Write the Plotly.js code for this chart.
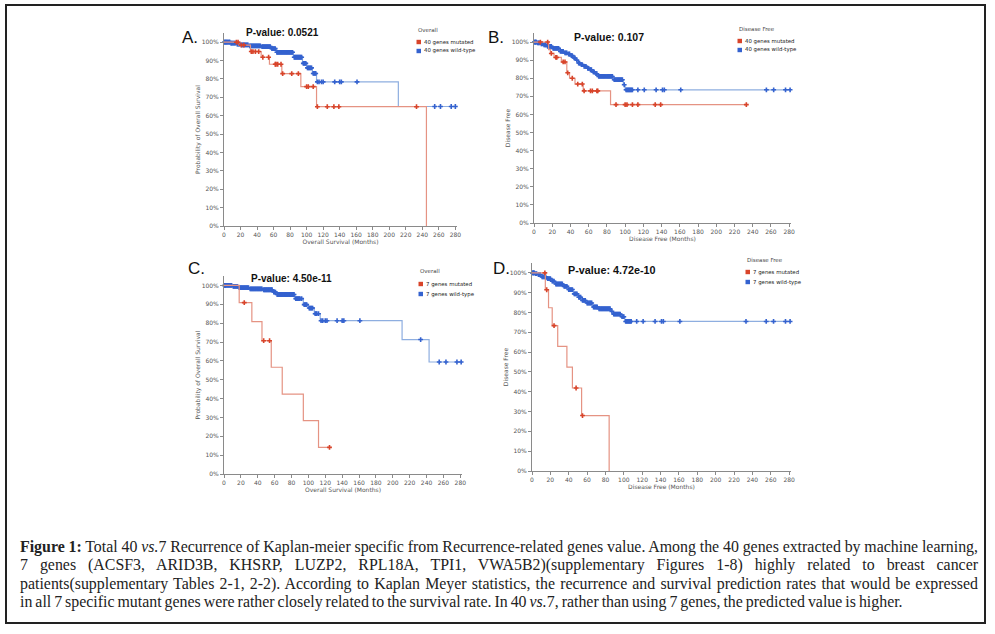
<!DOCTYPE html>
<html><head><meta charset="utf-8">
<script src="https://cdn.plot.ly/plotly-3.0.1.min.js"></script>
<style>
body{margin:0;padding:0;background:#fff;width:995px;height:634px;overflow:hidden;position:relative;}
#frame{position:absolute;left:5px;top:4px;width:981px;height:620px;border:2px solid #222;box-sizing:border-box;pointer-events:none;}
#chart{position:absolute;left:0;top:0;width:995px;height:634px;}
#caption{position:absolute;left:20px;width:958px;top:538px;font-family:'Liberation Serif',serif;font-size:15.9px;color:#222;word-spacing:-1px;}
#caption div{text-align:justify;text-align-last:justify;height:18.3px;line-height:18.3px;}
#caption div.last{text-align-last:left;}
</style>
</head><body>
<div id="chart"></div>
<div id="frame"></div>
<div id="caption">
<div><b>Figure 1:</b> Total 40 <i>vs.</i>7 Recurrence of Kaplan-meier specific from Recurrence-related genes value. Among the 40 genes extracted by machine learning,</div>
<div>7 genes (ACSF3, ARID3B, KHSRP, LUZP2, RPL18A, TPI1, VWA5B2)(supplementary Figures 1-8) highly related to breast cancer</div>
<div>patients(supplementary Tables 2-1, 2-2). According to Kaplan Meyer statistics, the recurrence and survival prediction rates that would be expressed</div>
<div class="last">in all 7 specific mutant genes were rather closely related to the survival rate. In 40 <i>vs.</i>7, rather than using 7 genes, the predicted value is higher.</div>
</div>
<script>
// ---------- DATA ----------
// Panel A: Overall survival, 40 genes
const A_mut_eventT = [18, 32, 45, 55, 70, 93, 112, 245];
const A_mut_eventS = [0.984, 0.949, 0.918, 0.880, 0.829, 0.758, 0.649, 0.0];
const A_mut_cens   = [15, 17, 21, 24, 33, 35, 38, 42, 47, 54, 62, 63, 65, 69, 71, 82, 90, 100, 102, 108, 113, 125, 133, 139, 233];
const A_mut_end    = 245;
const A_wt_eventT  = [8, 15, 20, 30, 45, 57, 63, 84, 95, 100, 107, 112, 211];
const A_wt_eventS  = [0.995, 0.990, 0.985, 0.980, 0.976, 0.965, 0.945, 0.918, 0.885, 0.860, 0.830, 0.784, 0.650];
const A_wt_cens    = [0.5,1,1.5,2,3,3.5,4,5,6,6.5,7,8.5,9,10,11,12,13,14,16,17,18,19,21,22,23,24,25,26,27,28,29,31,32,33,34,35,36,37,38,39,40,41,42,43,44,46,47,48,49,50,51,52,53,54,55,56,58,59,60,61,62,64,65,66,67,68,69,70,71,72,73,74,75,76,77,78,79,80,81,82,83,85,86,87,88,89,90,91,92,93,94,96,97,98,99,101,102,103,104,105,106,108,109,110,111,113,115,118,120,134,140,142,161,255,262,275,280];
const A_wt_end     = 280;

// Panel B: Disease free, 40 genes
const B_mut_eventT = [16, 18, 22, 30, 36, 39, 45, 54, 84];
const B_mut_eventS = [0.958, 0.937, 0.915, 0.890, 0.830, 0.800, 0.768, 0.730, 0.654];
const B_mut_cens   = [7, 15, 19, 24, 25, 32, 34, 37, 42, 48, 53, 55, 62, 64, 69, 70, 90, 100, 102, 108, 114, 133, 139, 233];
const B_mut_end    = 233;
const B_wt_eventT  = [3, 7, 10, 14, 20, 28, 33, 37, 40, 43, 46, 48, 51, 54, 58, 61, 64, 67, 70, 87, 98, 100];
const B_wt_eventS  = [0.995, 0.990, 0.985, 0.976, 0.965, 0.948, 0.940, 0.934, 0.925, 0.912, 0.900, 0.884, 0.875, 0.866, 0.855, 0.847, 0.835, 0.825, 0.810, 0.792, 0.764, 0.736];
const B_wt_cens    = [0.5,1,1.5,2,2.5,4,5,6,8,9,11,12,13,15,16,17,18,19,21,22,23,24,25,26,27,29,30,31,32,34,35,36,38,39,41,42,44,45,47,49,50,52,53,55,56,57,59,60,62,63,65,66,68,69,71,72,73,74,75,76,77,78,79,80,81,82,83,84,85,86,88,89,90,91,92,93,94,95,96,97,99,101,102,103,104,105,106,107,108,114,121,134,141,143,161,255,263,276,281];
const B_wt_end     = 281;

// Panel C: Overall survival, 7 genes
const C_mut_eventT = [18, 33, 45, 56, 69, 94, 112];
const C_mut_eventS = [0.909, 0.808, 0.707, 0.566, 0.424, 0.283, 0.141];
const C_mut_cens   = [24, 47, 54, 125];
const C_mut_end    = 125;
const C_wt_eventT  = [10, 17, 30, 46, 58, 62, 84, 94, 100, 107, 114, 211, 243];
const C_wt_eventS  = [0.995, 0.988, 0.982, 0.977, 0.965, 0.952, 0.930, 0.898, 0.880, 0.850, 0.813, 0.713, 0.594];
const C_wt_cens    = [0.5,1,1.5,2,3,4,5,6,7,8,9,11,12,13,14,15,16,18,19,20,21,22,23,24,25,26,27,28,29,31,32,33,34,35,36,37,38,39,40,41,42,43,44,45,47,48,49,50,51,52,53,54,55,56,57,59,60,61,63,64,65,66,67,68,69,70,71,72,73,74,75,76,77,78,79,80,81,82,83,85,86,87,88,89,90,92,95,96,97,98,101,102,103,104,105,108,109,110,112,115,117,120,122,134,140,142,161,233,255,263,276,281];
const C_wt_end     = 281;

// Panel D: Disease free, 7 genes
const D_mut_eventT = [14.5, 18, 22, 28, 38, 44, 54, 84];
const D_mut_eventS = [0.915, 0.824, 0.734, 0.629, 0.524, 0.419, 0.280, 0.0];
const D_mut_cens   = [14, 16, 24, 48, 55];
const D_mut_end    = 84;
const D_wt_eventT  = [3, 6, 10, 16, 21, 25, 34, 39, 45, 50, 54, 59, 66, 72, 86, 88, 97, 101];
const D_wt_eventS  = [0.996, 0.992, 0.980, 0.971, 0.958, 0.944, 0.932, 0.916, 0.894, 0.877, 0.861, 0.848, 0.828, 0.819, 0.806, 0.792, 0.779, 0.755];
const D_wt_cens    = [0.5,1,1.5,2,2.5,4,5,7,8,9,11,12,13,14,15,17,18,19,20,22,23,24,26,27,28,29,30,31,32,33,35,36,37,38,40,41,42,43,44,46,47,48,49,51,52,53,55,56,57,58,60,61,62,63,64,65,67,68,69,70,71,73,74,75,76,77,78,79,80,81,82,83,84,85,87,89,90,91,92,93,94,95,96,98,99,100,102,103,104,105,106,107,108,114,121,134,141,143,161,233,255,263,276,281];
const D_wt_end     = 281;

const xTicks = [0,20,40,60,80,100,120,140,160,180,200,220,240,260,280];
const yTicks = [0,0.1,0.2,0.3,0.4,0.5,0.6,0.7,0.8,0.9,1.0];

const pValues = ["P-value: 0.0521", "P-value: 0.107", "P-value: 4.50e-11", "P-value: 4.72e-10"];
const panelLetters = ["A.", "B.", "C.", "D."];
const legendTitles = ["Overall", "Disease Free", "Overall", "Disease Free"];
const legendMut = ["40 genes mutated", "40 genes mutated", "7 genes mutated", "7 genes mutated"];
const legendWt  = ["40 genes wild-type", "40 genes wild-type", "7 genes wild-type", "7 genes wild-type"];
const xTitles = ["Overall Survival (Months)", "Disease Free (Months)", "Overall Survival (Months)", "Disease Free (Months)"];
const yTitles = ["Probability of Overall Survival", "Disease Free", "Probability of Overall Survival", "Disease Free"];

// ---------- STYLE ----------
const RED = '#d8442a', RED_LINE = '#e59383';
const BLUE = '#3462cf', BLUE_LINE = '#8eaee0';
const W = 995, H = 634;
const px = x => x / W, py = y => 1 - y / H;

function survAt(t, T, S) { let s = 1; for (let i = 0; i < T.length; i++) { if (T[i] <= t) s = S[i]; } return s; }
function kmTraces(T, S, cens, end, col, lineCol, xa, ya) {
  const lx = [0].concat(T), ly = [1].concat(S);
  if (T[T.length-1] < end) { lx.push(end); ly.push(S[S.length-1]); }
  return [
    {x: lx, y: ly, mode: 'lines', line: {shape: 'hv', color: lineCol, width: 1.2}, xaxis: xa, yaxis: ya, showlegend: false, hoverinfo: 'skip', cliponaxis: false},
    {x: cens, y: cens.map(t => survAt(t, T, S)), mode: 'markers', marker: {symbol: 'cross', size: 4, color: col, line: {width: 0}}, xaxis: xa, yaxis: ya, showlegend: false, cliponaxis: false}
  ];
}

const traces = [].concat(
  kmTraces(A_wt_eventT, A_wt_eventS, A_wt_cens, A_wt_end, BLUE, BLUE_LINE, 'x', 'y'),
  kmTraces(A_mut_eventT, A_mut_eventS, A_mut_cens, A_mut_end, RED, RED_LINE, 'x', 'y'),
  kmTraces(B_wt_eventT, B_wt_eventS, B_wt_cens, B_wt_end, BLUE, BLUE_LINE, 'x2', 'y2'),
  kmTraces(B_mut_eventT, B_mut_eventS, B_mut_cens, B_mut_end, RED, RED_LINE, 'x2', 'y2'),
  kmTraces(C_wt_eventT, C_wt_eventS, C_wt_cens, C_wt_end, BLUE, BLUE_LINE, 'x3', 'y3'),
  kmTraces(C_mut_eventT, C_mut_eventS, C_mut_cens, C_mut_end, RED, RED_LINE, 'x3', 'y3'),
  kmTraces(D_wt_eventT, D_wt_eventS, D_wt_cens, D_wt_end, BLUE, BLUE_LINE, 'x4', 'y4'),
  kmTraces(D_mut_eventT, D_mut_eventS, D_mut_cens, D_mut_end, RED, RED_LINE, 'x4', 'y4')
);

const tickFont = {family: 'DejaVu Sans', size: 6, color: '#555'};
const titleFont = {family: 'DejaVu Sans', size: 6, color: '#555'};
function xAxis(dom, anchor, title) {
  return {domain: dom, anchor: anchor, range: [0, 282], tickvals: xTicks, showgrid: false, zeroline: false,
    showline: true, linecolor: '#8a8a8a', linewidth: 1, ticks: 'outside', ticklen: 3, tickcolor: '#8a8a8a',
    tickfont: tickFont, automargin: false, fixedrange: true, title: {text: title, font: titleFont, standoff: 2}};
}
function yAxis(dom, anchor, title) {
  return {domain: dom, anchor: anchor, range: [0, 1.05], tickvals: yTicks, tickformat: '.0%', showgrid: false, zeroline: false,
    showline: true, linecolor: '#8a8a8a', linewidth: 1, ticks: 'outside', ticklen: 3, tickcolor: '#8a8a8a',
    tickfont: tickFont, automargin: false, fixedrange: true, title: {text: title, font: titleFont, standoff: 0}};
}

// panel geometry in pixels: [left, right, bottom(0%), top(105%)]
const geo = [[224, 457, 226, 33], [534, 791, 223, 33], [224, 462, 474, 276], [532, 791, 471, 263]];
const letterPos = [[180, 38], [486, 38], [186, 268], [491, 268]];
const pPos = [[282, 32, 10], [609, 37, 10.5], [291, 279, 10], [612, 270, 10.8]];
const legPos = [[416, 30, 42, 51], [737, 29, 41, 50], [418, 271, 284, 294], [745, 260, 272, 282]];

const layout = {width: W, height: H, margin: {l: 0, r: 0, t: 0, b: 0}, paper_bgcolor: 'rgba(0,0,0,0)', plot_bgcolor: 'rgba(0,0,0,0)',
  showlegend: false, font: {family: 'DejaVu Sans'}, annotations: [], shapes: []};
const ids = ['', '2', '3', '4'];
geo.forEach((g, i) => {
  layout['xaxis' + ids[i]] = xAxis([px(g[0]), px(g[1])], 'y' + ids[i], xTitles[i]);
  layout['yaxis' + ids[i]] = yAxis([py(g[2]), py(g[3])], 'x' + ids[i], yTitles[i]);
  layout.annotations.push({xref: 'paper', yref: 'paper', x: px(letterPos[i][0]), y: py(letterPos[i][1]), xanchor: 'left', yanchor: 'middle',
    text: panelLetters[i], showarrow: false, font: {family: 'Liberation Sans', size: 17, color: '#111'}});
  layout.annotations.push({xref: 'paper', yref: 'paper', x: px(pPos[i][0]), y: py(pPos[i][1]), xanchor: 'center', yanchor: 'middle',
    text: '<b>' + pValues[i] + '</b>', showarrow: false, font: {family: 'Liberation Sans', size: pPos[i][2], color: '#111'}});
  const L = legPos[i];
  layout.annotations.push({xref: 'paper', yref: 'paper', x: px(L[0]), y: py(L[1]), xanchor: 'left', yanchor: 'middle',
    text: legendTitles[i], showarrow: false, font: {family: 'DejaVu Sans', size: 5.5, color: '#444'}});
  [[legendMut[i], L[2], RED], [legendWt[i], L[3], BLUE]].forEach(it => {
    layout.annotations.push({xref: 'paper', yref: 'paper', x: px(L[0] + 5.5), y: py(it[1]), xanchor: 'left', yanchor: 'middle',
      text: it[0], showarrow: false, font: {family: 'DejaVu Sans', size: 5.4, color: '#222'}});
    layout.shapes.push({type: 'rect', xref: 'paper', yref: 'paper', x0: px(L[0] + 0.5), x1: px(L[0] + 5), y0: py(it[1] + 2.2), y1: py(it[1] - 2.2),
      fillcolor: it[2], line: {width: 0}});
  });
});

Plotly.newPlot('chart', traces, layout, {displayModeBar: false, staticPlot: true});
</script>
</body></html>
